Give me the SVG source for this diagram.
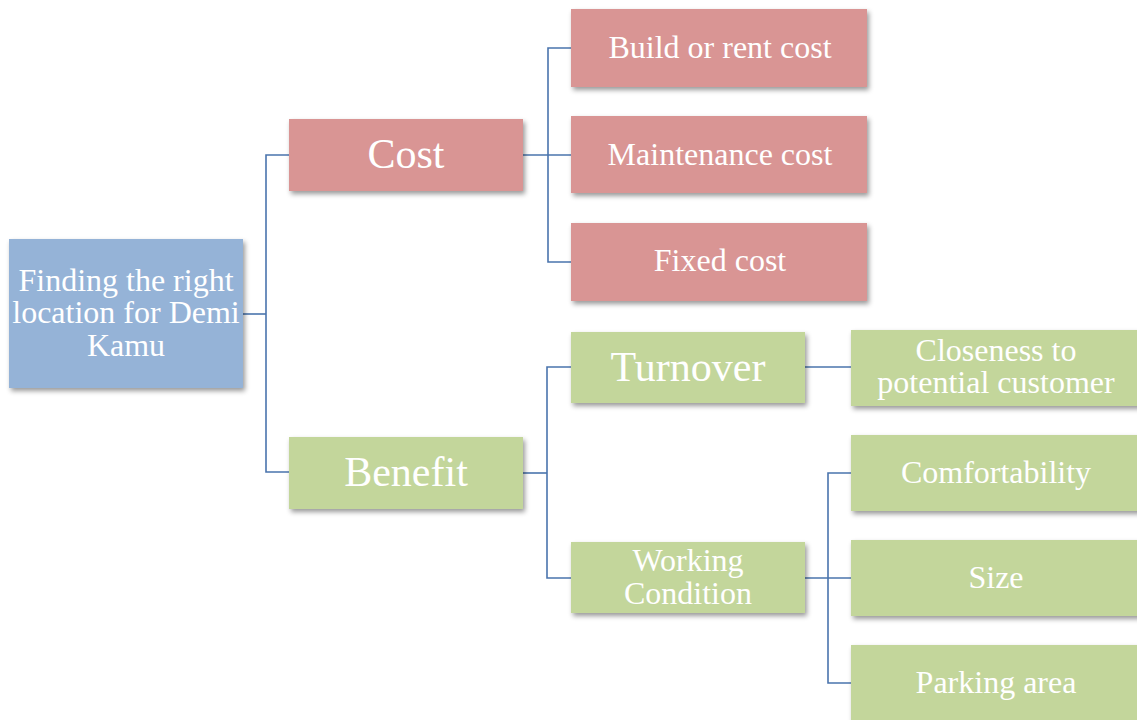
<svg xmlns="http://www.w3.org/2000/svg" width="1137" height="720" viewBox="0 0 1137 720">
<style>
.t{font-family:"Liberation Serif","Times New Roman",serif;fill:#ffffff;text-anchor:middle}
.s32{font-size:32px}
.s42{font-size:42px}
.blue{fill:#95B3D7}
.red{fill:#D99594}
.green{fill:#C3D69B}
.c{fill:none;stroke:#4A74AD;stroke-width:1.6}
</style>
<defs>
<filter id="sh" x="-10%" y="-10%" width="125%" height="135%">
<feDropShadow dx="2" dy="3" stdDeviation="2.5" flood-color="#000000" flood-opacity="0.4"/>
</filter>
</defs>
<rect width="1137" height="720" fill="#ffffff"/>
<g id="connectors">
<polyline class="c" points="243,314 266,314"/>
<polyline class="c" points="289,155 266,155 266,472 289,472"/>
<polyline class="c" points="523,155 571,155"/>
<polyline class="c" points="571,48 548,48 548,262 571,262"/>
<polyline class="c" points="523,473 547,473"/>
<polyline class="c" points="571,367 547,367 547,578 571,578"/>
<polyline class="c" points="805,367 851,367"/>
<polyline class="c" points="805,578 851,578"/>
<polyline class="c" points="851,473 828,473 828,683 851,683"/>
</g>
<g id="root">
<rect class="blue" x="9" y="239" width="234" height="149" filter="url(#sh)"/>
<text class="t s32" x="126" y="291">Finding the right</text>
<text class="t s32" x="126" y="323">location for Demi</text>
<text class="t s32" x="126" y="356">Kamu</text>
</g>
<g id="cost">
<rect class="red" x="289" y="119" width="234" height="72" filter="url(#sh)"/>
<text class="t s42" x="406" y="168">Cost</text>
</g>
<g id="build">
<rect class="red" x="571" y="9" width="296" height="78" filter="url(#sh)"/>
<text class="t s32" x="720" y="58">Build or rent cost</text>
</g>
<g id="maintenance">
<rect class="red" x="571" y="116" width="296" height="77" filter="url(#sh)"/>
<text class="t s32" x="720" y="165">Maintenance cost</text>
</g>
<g id="fixed">
<rect class="red" x="571" y="223" width="296" height="78" filter="url(#sh)"/>
<text class="t s32" x="720" y="271">Fixed cost</text>
</g>
<g id="benefit">
<rect class="green" x="289" y="437" width="234" height="72" filter="url(#sh)"/>
<text class="t s42" x="406" y="486">Benefit</text>
</g>
<g id="turnover">
<rect class="green" x="571" y="332" width="234" height="71" filter="url(#sh)"/>
<text class="t s42" x="688" y="381">Turnover</text>
</g>
<g id="working">
<rect class="green" x="571" y="542" width="234" height="71" filter="url(#sh)"/>
<text class="t s32" x="688" y="571">Working</text>
<text class="t s32" x="688" y="604">Condition</text>
</g>
<g id="closeness">
<rect class="green" x="851" y="330" width="290" height="76" filter="url(#sh)"/>
<text class="t s32" x="996" y="361">Closeness to</text>
<text class="t s32" x="996" y="393">potential customer</text>
</g>
<g id="comfortability">
<rect class="green" x="851" y="435" width="290" height="76" filter="url(#sh)"/>
<text class="t s32" x="996" y="483">Comfortability</text>
</g>
<g id="size">
<rect class="green" x="851" y="540" width="290" height="76" filter="url(#sh)"/>
<text class="t s32" x="996" y="588">Size</text>
</g>
<g id="parking">
<rect class="green" x="851" y="645" width="290" height="78" filter="url(#sh)"/>
<text class="t s32" x="996" y="693">Parking area</text>
</g>
</svg>
